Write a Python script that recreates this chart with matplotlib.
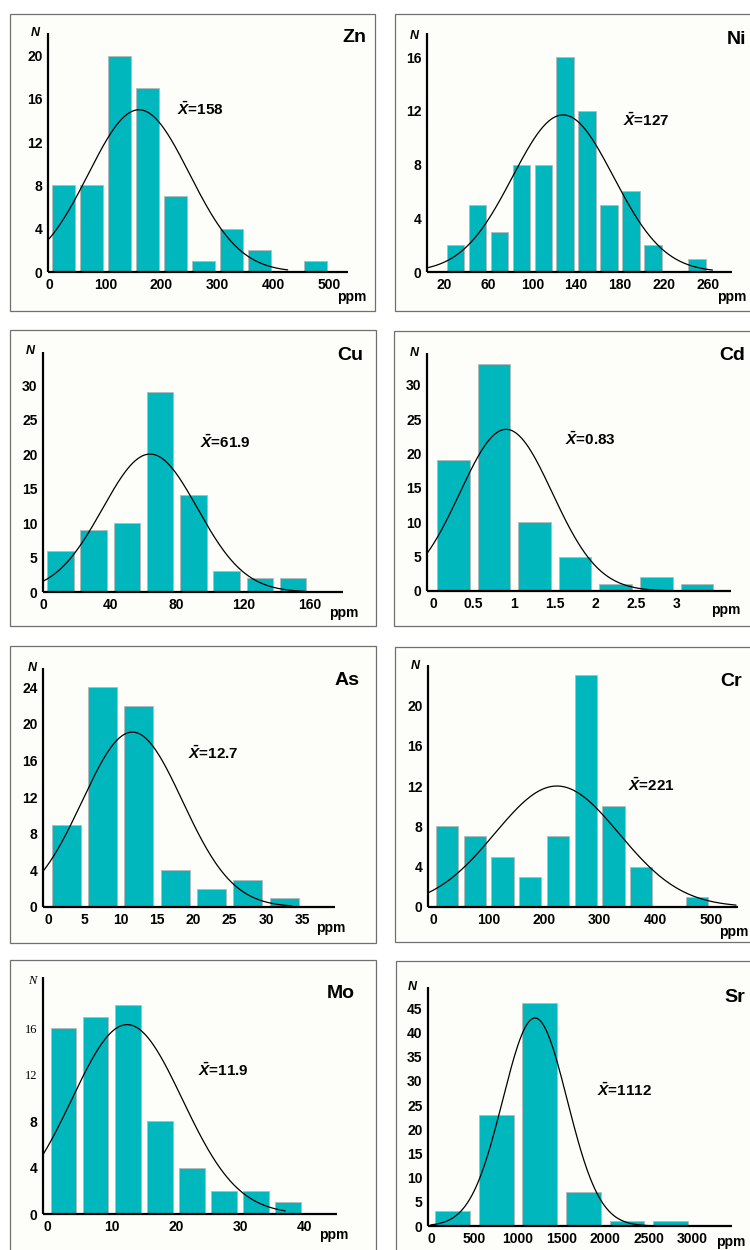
import numpy as np
import matplotlib
matplotlib.use("Agg")
import matplotlib.pyplot as plt
from matplotlib.patches import Rectangle

plt.rcParams['font.family'] = ['Liberation Sans', 'DejaVu Sans']
plt.rcParams['mathtext.fontset'] = 'custom'
plt.rcParams['mathtext.it'] = 'Liberation Sans:italic:bold'
plt.rcParams['mathtext.rm'] = 'Liberation Sans:bold'

# --- data: bin left edges, counts, normal-fit (mean, sigma, peak) ---
ZN_BINS = [0, 50, 100, 150, 200, 250, 300, 350, 400, 450]
ZN_COUNTS = [8, 8, 20, 17, 7, 1, 4, 2, 0, 1]
ZN_FIT = [160, 90, 15.0]
ZN_FIT_RANGE = [0, 425]
ZN_XTICKS = [0, 100, 200, 300, 400, 500]
ZN_YTICKS = [0, 4, 8, 12, 16, 20]
ZN_MEAN = "158"

NI_BINS = [20, 40, 60, 80, 100, 120, 140, 160, 180, 200, 220, 240]
NI_COUNTS = [2, 5, 3, 8, 8, 16, 12, 5, 6, 2, 0, 1]
NI_FIT = [128, 46, 11.7]
NI_FIT_RANGE = [5, 264]
NI_XTICKS = [20, 60, 100, 140, 180, 220, 260]
NI_YTICKS = [0, 4, 8, 12, 16]
NI_MEAN = "127"

CU_BINS = [0, 20, 40, 60, 80, 100, 120, 140]
CU_COUNTS = [6, 9, 10, 29, 14, 3, 2, 2]
CU_FIT = [64, 28.5, 20.0]
CU_FIT_RANGE = [0, 157]
CU_XTICKS = [0, 40, 80, 120, 160]
CU_YTICKS = [0, 5, 10, 15, 20, 25, 30]
CU_MEAN = "61.9"

CD_BINS = [0, 0.5, 1.0, 1.5, 2.0, 2.5, 3.0]
CD_COUNTS = [19, 33, 10, 5, 1, 2, 1]
CD_FIT = [0.9, 0.57, 23.5]
CD_FIT_RANGE = [-0.07, 2.95]
CD_XTICKS = [0, 0.5, 1, 1.5, 2, 2.5, 3]
CD_YTICKS = [0, 5, 10, 15, 20, 25, 30]
CD_MEAN = "0.83"

AS_BINS = [0, 5, 10, 15, 20, 25, 30]
AS_COUNTS = [9, 24, 22, 4, 2, 3, 1]
AS_FIT = [11.6, 6.9, 19.1]
AS_FIT_RANGE = [-0.7, 33.5]
AS_XTICKS = [0, 5, 10, 15, 20, 25, 30, 35]
AS_YTICKS = [0, 4, 8, 12, 16, 20, 24]
AS_MEAN = "12.7"

CR_BINS = [0, 50, 100, 150, 200, 250, 300, 350, 400, 450]
CR_COUNTS = [8, 7, 5, 3, 7, 23, 10, 4, 0, 1]
CR_FIT = [223, 112, 12.0]
CR_FIT_RANGE = [-9, 545]
CR_XTICKS = [0, 100, 200, 300, 400, 500]
CR_YTICKS = [0, 4, 8, 12, 16, 20]
CR_MEAN = "221"

MO_BINS = [0, 5, 10, 15, 20, 25, 30, 35]
MO_COUNTS = [16, 17, 18, 8, 4, 2, 2, 1]
MO_FIT = [12.4, 8.6, 16.3]
MO_FIT_RANGE = [-0.7, 37]
MO_XTICKS = [0, 10, 20, 30, 40]
MO_YTICKS = [0, 4, 8, 12, 16]
MO_MEAN = "11.9"

SR_BINS = [0, 500, 1000, 1500, 2000, 2500]
SR_COUNTS = [3, 23, 46, 7, 1, 1]
SR_FIT = [1194, 370, 43.0]
SR_FIT_RANGE = [0, 2670]
SR_XTICKS = [0, 500, 1000, 1500, 2000, 2500, 3000]
SR_YTICKS = [0, 5, 10, 15, 20, 25, 30, 35, 40, 45]
SR_MEAN = "1112"

W, H = 750, 1250
BAR_COLOR = '#00b7be'


def fx(x):
    return x / W


def fy(y):
    return 1 - y / H


def fmt(v):
    return ('%g' % v)


fig = plt.figure(figsize=(7.5, 12.5), dpi=100)

# panel layout in pixels: frame box, axes box (left, right, top, bottom), xlim, ylim, text spots
panels = [
    dict(name='Zn', bins=ZN_BINS, counts=ZN_COUNTS, fit=ZN_FIT, rng=ZN_FIT_RANGE,
         xt=ZN_XTICKS, yt=ZN_YTICKS, mean=ZN_MEAN,
         frame=(10, 14, 375, 311), ax=(48, 348, 33, 272), xlim=(-2.3, 533), ylim=(0, 22.1),
         n=(35, 33), lab=(366, 38), xbar=(177, 109), ppm=(366, 297)),
    dict(name='Ni', bins=NI_BINS, counts=NI_COUNTS, fit=NI_FIT, rng=NI_FIT_RANGE,
         xt=NI_XTICKS, yt=NI_YTICKS, mean=NI_MEAN,
         frame=(395, 14, 760, 311), ax=(427, 732, 33, 272), xlim=(4, 282), ylim=(0, 17.8),
         n=(414, 36), lab=(746, 40), xbar=(623, 120), ppm=(746, 297)),
    dict(name='Cu', bins=CU_BINS, counts=CU_COUNTS, fit=CU_FIT, rng=CU_FIT_RANGE,
         xt=CU_XTICKS, yt=CU_YTICKS, mean=CU_MEAN,
         frame=(10, 330, 376, 626), ax=(43, 343, 352, 592), xlim=(-0.4, 180), ylim=(0, 34.8),
         n=(30, 351), lab=(363, 355), xbar=(200, 442), ppm=(358, 613)),
    dict(name='Cd', bins=CD_BINS, counts=CD_COUNTS, fit=CD_FIT, rng=CD_FIT_RANGE,
         xt=CD_XTICKS, yt=CD_YTICKS, mean=CD_MEAN,
         frame=(394, 331, 760, 626), ax=(427, 731, 353, 591), xlim=(-0.074, 3.67), ylim=(0, 34.6),
         n=(414, 353), lab=(745, 356), xbar=(565, 439), ppm=(740, 610)),
    dict(name='As', bins=AS_BINS, counts=AS_COUNTS, fit=AS_FIT, rng=AS_FIT_RANGE,
         xt=AS_XTICKS, yt=AS_YTICKS, mean=AS_MEAN,
         frame=(10, 646, 376, 943), ax=(43, 335, 668, 907), xlim=(-0.7, 39.5), ylim=(0, 26.1),
         n=(32, 668), lab=(360, 681), xbar=(188, 753), ppm=(345, 928)),
    dict(name='Cr', bins=CR_BINS, counts=CR_COUNTS, fit=CR_FIT, rng=CR_FIT_RANGE,
         xt=CR_XTICKS, yt=CR_YTICKS, mean=CR_MEAN,
         frame=(395, 647, 760, 942), ax=(428, 738, 665, 907), xlim=(-9, 549), ylim=(0, 24),
         n=(415, 666), lab=(742, 682), xbar=(628, 785), ppm=(748, 932)),
    dict(name='Mo', bins=MO_BINS, counts=MO_COUNTS, fit=MO_FIT, rng=MO_FIT_RANGE,
         xt=MO_XTICKS, yt=MO_YTICKS, mean=MO_MEAN,
         frame=(10, 960, 376, 1262), ax=(43, 337, 977, 1214), xlim=(-0.7, 45.1), ylim=(0, 20.4),
         n=(32, 981), lab=(355, 994), xbar=(198, 1070), ppm=(348, 1235)),
    dict(name='Sr', bins=SR_BINS, counts=SR_COUNTS, fit=SR_FIT, rng=SR_FIT_RANGE,
         xt=SR_XTICKS, yt=SR_YTICKS, mean=SR_MEAN,
         frame=(396, 961, 760, 1262), ax=(428, 732, 987, 1226), xlim=(-34, 3456), ylim=(0, 49.4),
         n=(412, 987), lab=(745, 997), xbar=(597, 1090), ppm=(745, 1242)),
]

for p in panels:
    x0, y0, x1, y1 = p['frame']
    fig.patches.append(Rectangle((fx(x0), fy(y1)), fx(x1) - fx(x0), fy(y0) - fy(y1),
                                 transform=fig.transFigure, facecolor='#fdfdf9',
                                 edgecolor='#707070', linewidth=0.9, zorder=-1))

    l, r, t, b = p['ax']
    ax = fig.add_axes([fx(l), fy(b), fx(r) - fx(l), fy(t) - fy(b)])
    ax.patch.set_alpha(0)

    bins = np.array(p['bins'], dtype=float)
    width = bins[1] - bins[0]
    ax.bar(bins + width / 2, p['counts'], width=width * 0.8, color=BAR_COLOR,
           edgecolor='#b8b8b8', linewidth=0.6, zorder=2)

    mu, sig, peak = p['fit']
    xs = np.linspace(p['rng'][0], p['rng'][1], 300)
    ax.plot(xs, peak * np.exp(-(xs - mu) ** 2 / (2 * sig ** 2)), color='black',
            linewidth=0.9, zorder=3)

    ax.set_xlim(*p['xlim'])
    ax.set_ylim(*p['ylim'])
    ax.set_xticks(p['xt'])
    ax.set_xticklabels([fmt(v) for v in p['xt']])
    ax.set_yticks(p['yt'])
    ax.set_yticklabels([fmt(v) for v in p['yt']])
    ax.tick_params(length=0, labelsize=10, pad=4)
    for lab in ax.get_xticklabels() + ax.get_yticklabels():
        lab.set_fontweight('bold')
    for side in ('top', 'right'):
        ax.spines[side].set_visible(False)
    for side in ('left', 'bottom'):
        ax.spines[side].set_linewidth(1.6)
        ax.spines[side].set_color('black')
        ax.spines[side].set_capstyle('butt')

    n_style = dict(fontsize=9, fontweight='bold', fontstyle='italic')
    if p['name'] == 'Mo':
        # this panel mixes in serif labels in the original
        for lab in ax.get_yticklabels():
            if lab.get_text() in ('12', '16'):
                lab.set_fontfamily('Liberation Serif')
                lab.set_fontweight('normal')
                lab.set_fontsize(9)
        n_style = dict(fontsize=9, fontstyle='italic', family='Liberation Serif')

    fig.text(fx(p['n'][0]), fy(p['n'][1]), 'N', ha='center', va='center', **n_style)
    fig.text(fx(p['lab'][0]), fy(p['lab'][1]), p['name'], ha='right', va='center',
             fontsize=14, fontweight='bold')
    fig.text(fx(p['xbar'][0]), fy(p['xbar'][1]), r'$\bar{X}$=' + p['mean'], ha='left',
             va='center', fontsize=11, fontweight='bold')
    fig.text(fx(p['ppm'][0]), fy(p['ppm'][1]), 'ppm', ha='right', va='center',
             fontsize=10, fontweight='bold')

fig.savefig('out.png', dpi=100, facecolor='white')
